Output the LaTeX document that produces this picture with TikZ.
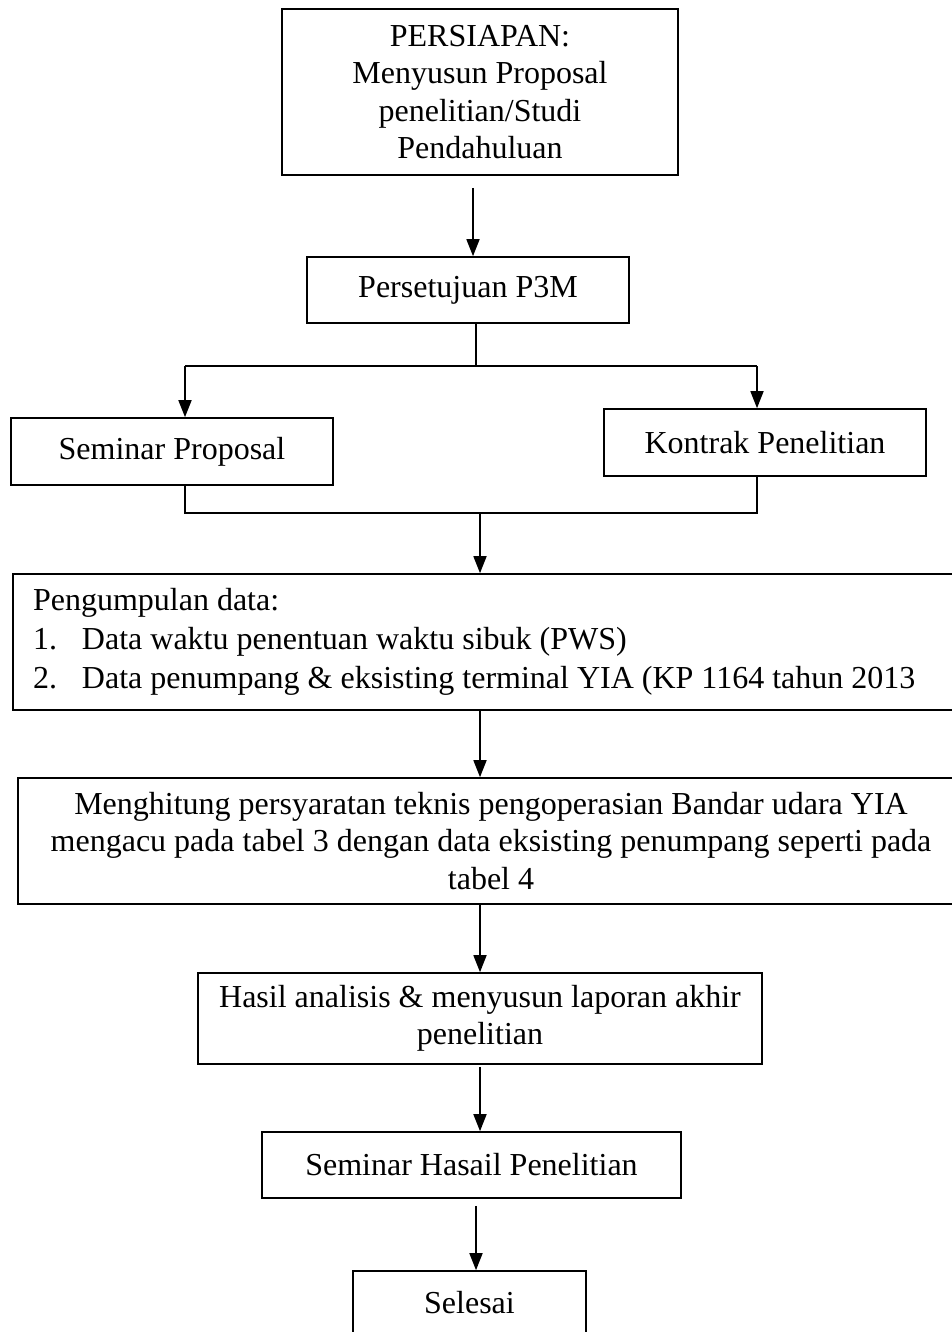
\documentclass[tikz,border=0pt]{standalone}
\usepackage{fontspec}
\setmainfont{Liberation Serif}
\usetikzlibrary{arrows.meta,calc}
\begin{document}
\begin{tikzpicture}[x=1pt,y=-1pt,
  box/.style={draw,line width=1.6pt,rectangle,inner sep=0pt,align=center,font=\fontsize{32}{37.5}\selectfont},
  arr/.style={line width=1.6pt,-{Triangle[length=17pt,width=13pt]}},
  ln/.style={line width=1.6pt}]
\useasboundingbox (0,0) rectangle (952,1332);
\clip (0,0) rectangle (952,1332);
\fill[white] (0,0) rectangle (952,1332);

\node[box,minimum width=396pt,minimum height=166pt] (prep) at (480,92)
  {PERSIAPAN:\\Menyusun Proposal\\penelitian/Studi\\Pendahuluan};
\node[box,minimum width=322pt,minimum height=66pt] (p3m) at (468,290) {Persetujuan P3M};
\node[box,minimum width=322pt,minimum height=67pt] (sp) at (172,451.5) {Seminar Proposal};
\node[box,minimum width=322pt,minimum height=67pt] (kp) at (765,442.5) {Kontrak Penelitian};
\node[box,align=flush left,text width=927pt,inner xsep=20pt,minimum height=136pt,
      font=\fontsize{32}{39}\selectfont] (data) at (496.5,642)
  {Pengumpulan data:\\
   \makebox[49pt][l]{1.}Data waktu penentuan waktu sibuk (PWS)\\
   \makebox[49pt][l]{2.}Data penumpang \& eksisting terminal YIA (KP 1164 tahun 2013};
\node[box,minimum width=946pt,minimum height=126pt] (calc) at (491,841)
  {Menghitung persyaratan teknis pengoperasian Bandar udara YIA\\
   mengacu pada tabel 3 dengan data eksisting penumpang seperti pada\\
   tabel 4};
\node[box,minimum width=564pt,minimum height=91pt] (hasil) at (480,1018.5)
  {Hasil analisis \& menyusun laporan akhir\\penelitian};
\node[box,minimum width=419pt,minimum height=66pt] (sh) at (471.5,1165) {Seminar Hasail Penelitian};
\node[box,minimum width=233pt,minimum height=64pt] (sel) at (469.5,1303) {Selesai};

\coordinate (bl) at (185,366);
\coordinate (br) at (757,366);
\coordinate (ml) at (185,513);
\coordinate (mr) at (757,513);
\coordinate (mc) at (480,513);

\draw[arr] ([xshift=-7pt,yshift=-12pt]prep.south) -- ([xshift=-7pt]prep.south |- p3m.north);
\draw[ln] ([xshift=8pt]p3m.south) -- ([xshift=8pt]p3m.south |- bl);
\draw[ln] (bl) -- (br);
\draw[arr] (bl) -- (bl |- sp.north);
\draw[arr] (br) -- (br |- kp.north);
\draw[ln] (bl |- sp.south) -- (ml) -- (mr) -- (br |- kp.south);
\draw[arr] (mc) -- (mc |- data.north);
\draw[arr] (mc |- data.south) -- (mc |- calc.north);
\draw[arr] (mc |- calc.south) -- (mc |- hasil.north);
\draw[arr] ([yshift=-2pt]hasil.south) -- (hasil.south |- sh.north);
\draw[arr] ([xshift=4.5pt,yshift=-7pt]sh.south) -- ([xshift=4.5pt]sh.south |- sel.north);
\end{tikzpicture}
\end{document}
